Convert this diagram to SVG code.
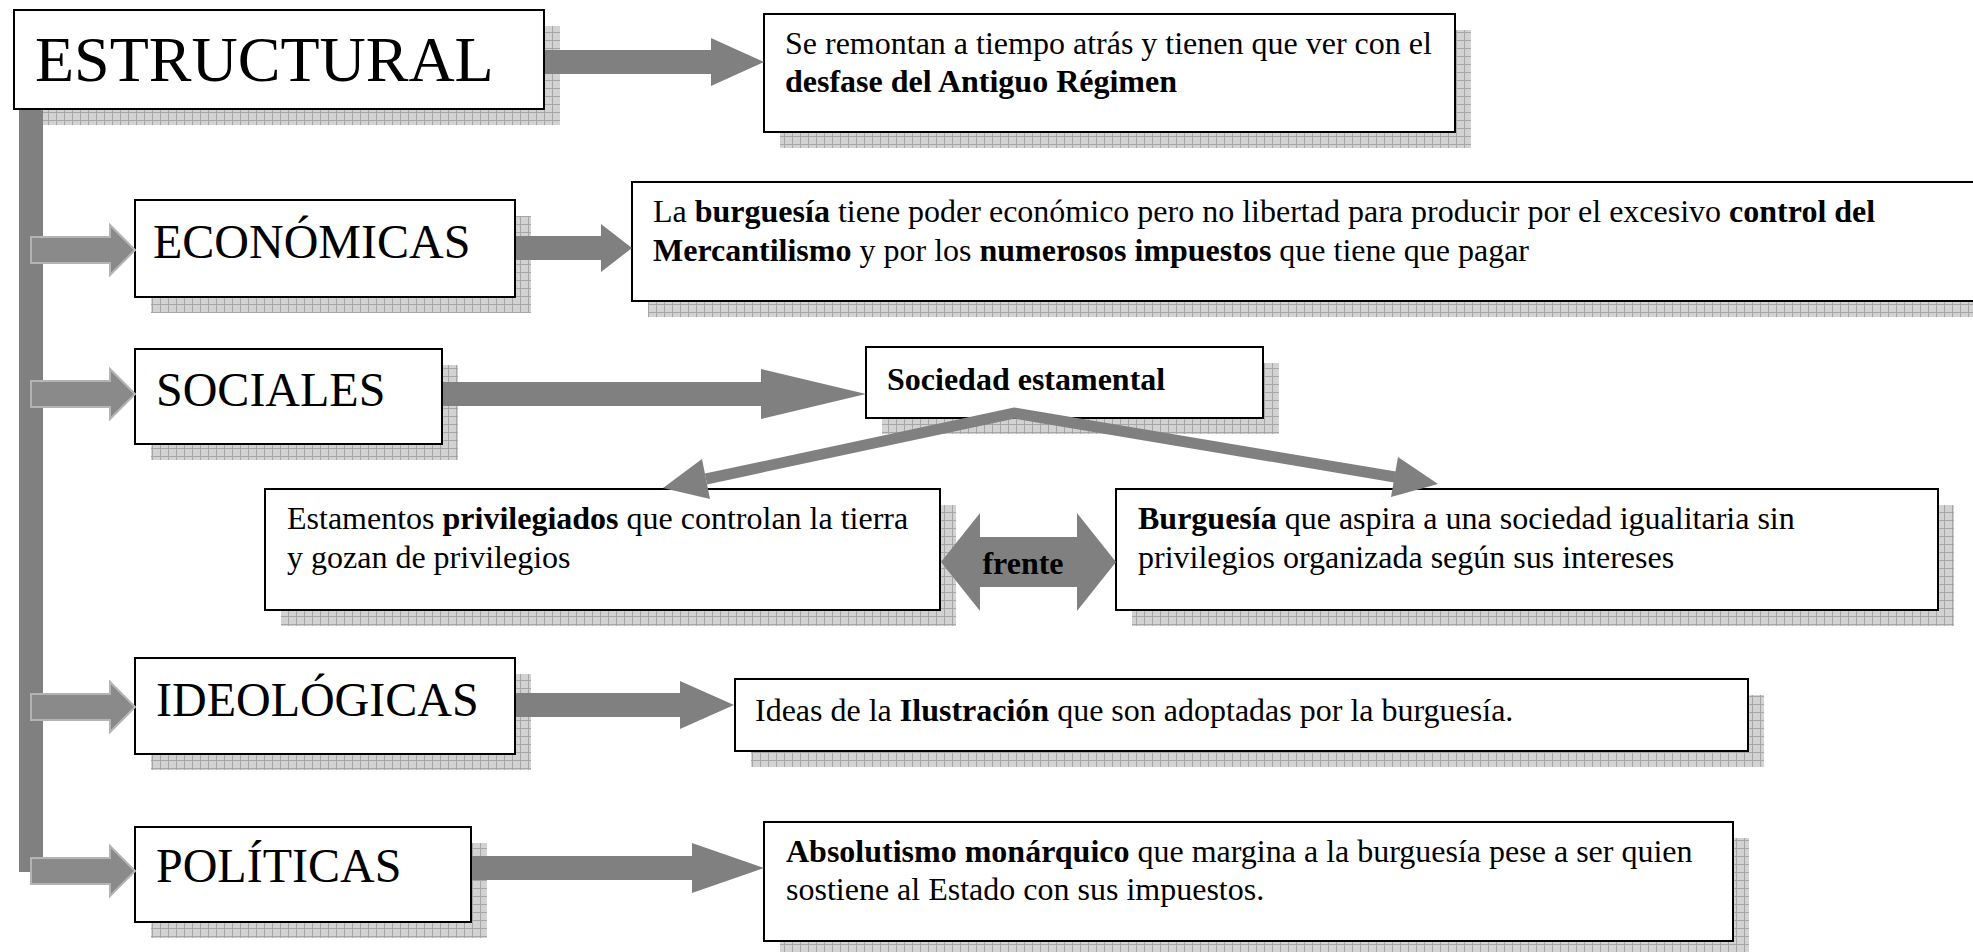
<svg xmlns="http://www.w3.org/2000/svg" width="1973" height="952" viewBox="0 0 1973 952">
<defs>
<pattern id="grid" width="8" height="8" patternUnits="userSpaceOnUse">
<rect width="8" height="8" fill="#d2d2d2"/>
<path d="M0 0.5H8M0.5 0V8" stroke="#a6a6a6" stroke-width="1"/>
</pattern>
<style>
.sh{fill:url(#grid)}
.bx{fill:#fff;stroke:#000;stroke-width:2}
.t{font-family:"Liberation Serif","Times New Roman",serif;fill:#000}
.big{font-size:64px}
.cat{font-size:48px}
.body{font-size:32px}
.b{font-weight:bold}
.arr{fill:#808080}
.br{fill:#8a8a8a;stroke:#b4b4b4;stroke-width:2}
</style>
</defs>
<rect width="1973" height="952" fill="#fff"/>

<g id="estructural">
<rect class="sh" x="30" y="26" width="530" height="99"/>
<rect class="bx" x="14" y="10" width="530" height="99"/>
<text class="t big" x="35" y="81">ESTRUCTURAL</text>
</g>

<g id="economicas">
<rect class="sh" x="151" y="216" width="380" height="97"/>
<rect class="bx" x="135" y="200" width="380" height="97"/>
<text class="t cat" x="153" y="258">ECONÓMICAS</text>
</g>

<g id="sociales">
<rect class="sh" x="151" y="365" width="307" height="95"/>
<rect class="bx" x="135" y="349" width="307" height="95"/>
<text class="t cat" x="156" y="406">SOCIALES</text>
</g>

<g id="ideologicas">
<rect class="sh" x="151" y="674" width="380" height="96"/>
<rect class="bx" x="135" y="658" width="380" height="96"/>
<text class="t cat" x="156" y="716">IDEOLÓGICAS</text>
</g>

<g id="politicas">
<rect class="sh" x="151" y="843" width="336" height="95"/>
<rect class="bx" x="135" y="827" width="336" height="95"/>
<text class="t cat" x="156" y="882">POLÍTICAS</text>
</g>

<g id="desfase">
<rect class="sh" x="780" y="30" width="691" height="118"/>
<rect class="bx" x="764" y="14" width="691" height="118"/>
<text class="t body" x="785" y="54">Se remontan a tiempo atrás y tienen que ver con el</text>
<text class="t body b" x="785" y="92">desfase del Antiguo Régimen</text>
</g>

<g id="burguesia-economica">
<rect class="sh" x="648" y="198" width="1400" height="119"/>
<rect class="bx" x="632" y="182" width="1400" height="119"/>
<text class="t body" x="653" y="222">La <tspan class="b">burguesía</tspan> tiene poder económico pero no libertad para producir por el excesivo <tspan class="b">control del</tspan></text>
<text class="t body" x="653" y="261"><tspan class="b">Mercantilismo</tspan> y por los <tspan class="b">numerosos impuestos</tspan> que tiene que pagar</text>
</g>

<g id="sociedad">
<rect class="sh" x="882" y="363" width="397" height="71"/>
<rect class="bx" x="866" y="347" width="397" height="71"/>
<text class="t body b" x="887" y="390">Sociedad estamental</text>
</g>

<g id="privilegiados">
<rect class="sh" x="281" y="505" width="675" height="121"/>
<rect class="bx" x="265" y="489" width="675" height="121"/>
<text class="t body" x="287" y="529">Estamentos <tspan class="b">privilegiados</tspan> que controlan la tierra</text>
<text class="t body" x="287" y="568">y gozan de privilegios</text>
</g>

<g id="burguesia-social">
<rect class="sh" x="1132" y="505" width="822" height="121"/>
<rect class="bx" x="1116" y="489" width="822" height="121"/>
<text class="t body" x="1138" y="529"><tspan class="b">Burguesía</tspan> que aspira a una sociedad igualitaria sin</text>
<text class="t body" x="1138" y="568">privilegios organizada según sus intereses</text>
</g>

<g id="ilustracion">
<rect class="sh" x="751" y="695" width="1013" height="72"/>
<rect class="bx" x="735" y="679" width="1013" height="72"/>
<text class="t body" x="755" y="721">Ideas de la <tspan class="b">Ilustración</tspan> que son adoptadas por la burguesía.</text>
</g>

<g id="absolutismo">
<rect class="sh" x="780" y="838" width="969" height="119"/>
<rect class="bx" x="764" y="822" width="969" height="119"/>
<text class="t body" x="786" y="862"><tspan class="b">Absolutismo monárquico</tspan> que margina a la burguesía pese a ser quien</text>
<text class="t body" x="786" y="900">sostiene al Estado con sus impuestos.</text>
</g>

<g id="connectors">
<rect x="19" y="110" width="24" height="762" fill="#808080"/>
<path class="br" d="M31,237 H110 V225 L135,250 L110,275 V263 H31 Z"/>
<path class="br" d="M31,381 H110 V369 L135,394 L110,419 V407 H31 Z"/>
<path class="br" d="M31,694 H110 V682 L135,707 L110,732 V720 H31 Z"/>
<path class="br" d="M31,858 H110 V846 L135,871 L110,896 V884 H31 Z"/>
<path class="arr" d="M545,50 H711 V38 L764,62 L711,86 V74 H545 Z"/>
<path class="arr" d="M516,236 H601 V224 L632,248 L601,272 V260 H516 Z"/>
<path class="arr" d="M443,382 H761 V369 L866,394 L761,419 V406 H443 Z"/>
<path class="arr" d="M516,693 H680 V681 L734,705 L680,729 V717 H516 Z"/>
<path class="arr" d="M472,856 H692 V843 L764,868 L692,893 V880 H472 Z"/>
<polyline points="706,479 1014,413 1395,477" fill="none" stroke="#808080" stroke-width="11" stroke-linejoin="miter"/>
<path class="arr" d="M663,488 L710,499 L702,459 Z"/>
<path class="arr" d="M1438,484 L1398,457 L1391,497 Z"/>
<path class="arr" d="M941,562 L980,513 V537 H1077 V513 L1116,562 L1077,611 V587 H980 V611 Z"/>
<text class="t body b" x="1023" y="574" text-anchor="middle">frente</text>
</g>
</svg>
